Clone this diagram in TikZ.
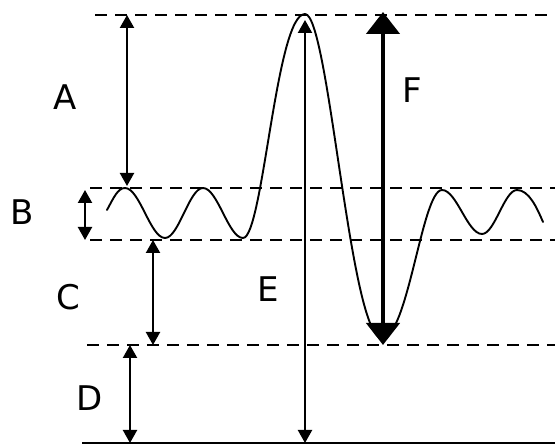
\documentclass[tikz,border=0pt]{standalone}
\usepackage{fontspec}
\setmainfont{DejaVu Sans}
\usetikzlibrary{arrows.meta}
\begin{document}
\begin{tikzpicture}
% Wave with its levels and spans, drawn on a pixel grid
\def\pxsz{1pt}
\providecommand{\waveLevelWidth}{2.6pt}
\providecommand{\waveLineWidth}{1.9pt}
\providecommand{\waveSpanWidth}{2.2pt}
\providecommand{\waveBigSpanWidth}{4.6pt}
\begin{scope}[x=\pxsz, y=-\pxsz, line join=round,
  level/.style={draw=black, line width=\waveLevelWidth, dash pattern=on 12pt off 8pt},
  span/.style={draw=black, line width=\waveSpanWidth,
    {Triangle[width=14pt,length=13pt]}-{Triangle[width=14pt,length=13pt]}},
  bigspan/.style={draw=black, line width=\waveBigSpanWidth,
    {Triangle[width=33pt,length=22pt]}-{Triangle[width=33pt,length=22pt]}},
  lbl/.style={font=\fontsize{34}{40}\selectfont, inner sep=0pt}]
  \useasboundingbox (0,0) rectangle (555,446);
  % Levels
  \coordinate (topL) at (95,15);   \coordinate (topR) at (555,15);
  \coordinate (hiL) at (90,188);   \coordinate (hiR) at (555,188);
  \coordinate (loL) at (90,240);   \coordinate (loR) at (555,240);
  \coordinate (dipL) at (87,345);  \coordinate (dipR) at (555,345);
  \coordinate (baseL) at (82,443); \coordinate (baseR) at (555,443);
  \draw[level] (topL) -- (topR);
  \draw[level] (hiL) -- (hiR);
  \draw[level] (loL) -- (loR);
  \draw[level] (dipL) -- (dipR);
  \draw[line width=\waveLevelWidth] (baseL) -- (baseR);
  % Wave, one half period at a time
  \draw[line width=\waveLineWidth, line cap=round]
    (107,210) .. controls (114,197) and (118,188) .. (125,188)
    .. controls (139.6,188) and (150.4,238) .. (165,238)
    .. controls (178.8,238) and (189.2,188) .. (203,188)
    .. controls (217.6,188) and (228.4,238) .. (243,238)
    .. controls (263,238) and (276,14) .. (305,14)
    .. controls (329,14) and (350,338) .. (382,338)
    .. controls (408,338) and (422,190) .. (442,190)
    .. controls (456.6,190) and (467.4,234) .. (482,234)
    .. controls (494.7,234) and (504.3,190) .. (517,190)
    .. controls (529,190) and (537,208) .. (543,222);
  % Span end points
  \coordinate (aT) at (127,15);  \coordinate (aB) at (127,186);
  \coordinate (bT) at (85,190);  \coordinate (bB) at (85,240);
  \coordinate (cT) at (153,240); \coordinate (cB) at (153,345);
  \coordinate (dT) at (130,345); \coordinate (dB) at (130,443);
  \coordinate (eT) at (305,20);  \coordinate (eB) at (305,443);
  \coordinate (fT) at (383,12);  \coordinate (fB) at (383,345);
  % Spans
  \draw[span] (aT) -- (aB);
  \draw[span] (bT) -- (bB);
  \draw[span] (cT) -- (cB);
  \draw[span] (dT) -- (dB);
  \draw[span] (eT) -- (eB);
  \draw[bigspan] (fT) -- (fB);
  % Labels
  \node[lbl] (lblA) at (65,97) {A};
  \node[lbl] (lblB) at (22,212) {B};
  \node[lbl] (lblC) at (68,297) {C};
  \node[lbl] (lblD) at (90,398) {D};
  \node[lbl] (lblE) at (268,289) {E};
  \node[lbl] (lblF) at (412,90) {F};
\end{scope}
\end{tikzpicture}
\end{document}
